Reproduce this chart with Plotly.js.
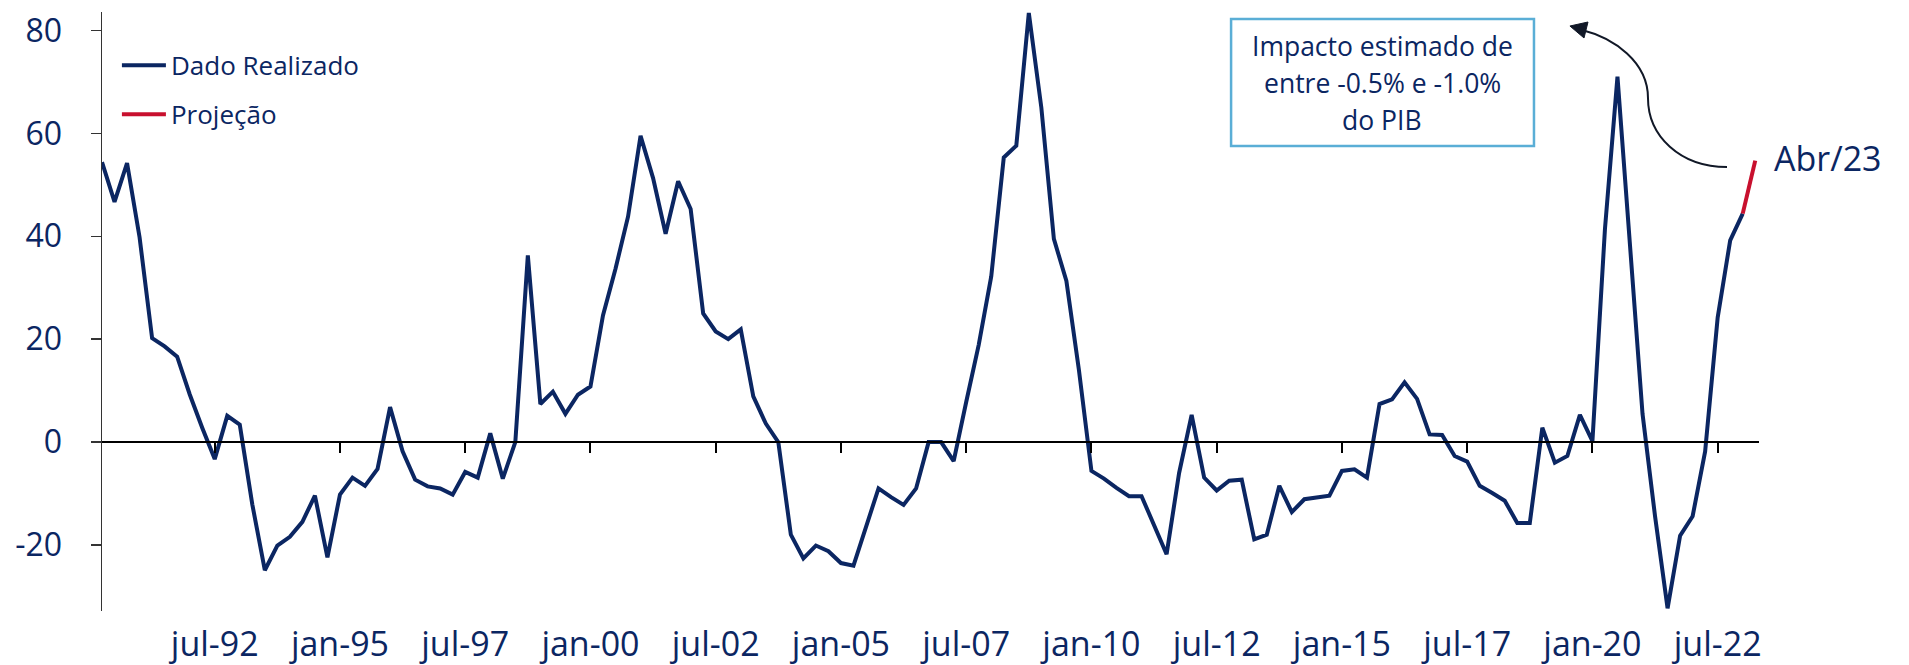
<!DOCTYPE html>
<html>
<head>
<meta charset="utf-8">
<script src="https://cdn.plot.ly/plotly-3.0.1.min.js"></script>
<style>
  html, body { margin: 0; padding: 0; background: #fff; }
  #plt1 { width: 1909px; height: 665px; }
</style>
</head>
<body>
<div id="plt1"></div>
<script>
// quarterly series, starting at abr-90
var startYear = 1990;
var startQuarter = 1; // 0 = jan, 1 = abr, 2 = jul, 3 = out
var monthNames = ['jan', 'abr', 'jul', 'out'];

var realizado = [
    54.4, 46.7, 54.2, 39.8, 20.2, 18.6, 16.6, 9.3, 2.8, -3.3,
    5.1, 3.4, -12.1, -24.9, -20.1, -18.4, -15.5, -10.4, -22.4, -10.2,
    -6.9, -8.5, -5.2, 6.8, -1.8, -7.3, -8.6, -9.0, -10.2, -5.8,
    -6.9, 1.7, -7.1, 0, 36.3, 7.4, 9.8, 5.5, 9.2, 10.8,
    24.6, 33.7, 43.8, 59.5, 51.3, 40.5, 50.7, 45.3, 25.0, 21.5,
    20.0, 21.9, 8.9, 3.6, 0, -18.0, -22.6, -20.1, -21.2, -23.5,
    -24.0, -16.5, -9.0, -10.7, -12.2, -9.0, 0, 0, -3.7, 7.8,
    18.9, 32.2, 55.3, 57.6, 83.4, 65.0, 39.5, 31.3, 14.0, -5.6,
    -7.1, -8.9, -10.5, -10.5, -16.3, -21.8, -6.0, 5.3, -6.9, -9.4,
    -7.5, -7.3, -18.9, -18.0, -8.5, -13.6, -11.1, -10.7, -10.4, -5.6,
    -5.3, -6.9, 7.4, 8.3, 11.6, 8.4, 1.5, 1.4, -2.7, -3.8,
    -8.5, -9.9, -11.4, -15.7, -15.7, 2.8, -4.0, -2.7, 5.3, 0.2,
    41.4, 71.0, 38.3, 5.5, -14.4, -32.3, -18.2, -14.4, -1.8, 24.2,
    39.2, 44.4
];
var projecao = [44.4, 54.7];

var tickLabels = ['jul-92', 'jan-95', 'jul-97', 'jan-00', 'jul-02', 'jan-05', 'jul-07',
    'jan-10', 'jul-12', 'jan-15', 'jul-17', 'jan-20', 'jul-22'];
var yTicks = [-20, 0, 20, 40, 60, 80];
var yTickText = ['-20', '0', '20', '40', '60', '80'];

var boxLines = ['Impacto estimado de', 'entre -0.5% e -1.0%', 'do PIB'];
var endLabel = 'Abr/23';

// build quarter names
var nQuarters = realizado.length + projecao.length - 1;
var quarters = [];
for (var i = 0; i < nQuarters; i++) {
    var q = startQuarter + i;
    var yr = startYear + Math.floor(q / 4);
    quarters.push(monthNames[q % 4] + '-' + String(yr).slice(2));
}
var xReal = realizado.map(function (v, i) { return i; });
var xProj = projecao.map(function (v, i) { return realizado.length - 1 + i; });
var tickPos = tickLabels.map(function (t) { return quarters.indexOf(t); });

var navy = '#0B2662';
var red = '#C8102E';
var font = 'Open Sans, Noto Sans, sans-serif';

var W = 1909, H = 665;
var M = {l: 102, r: 150, t: 12, b: 54};
var yRange = [-32.82, 83.58];
var xRange = [0, nQuarters - 1 + 0.3];
var zeroPos = (0 - yRange[0]) / (yRange[1] - yRange[0]);

// pixel -> paper helpers for decorations
var pw = W - M.l - M.r, ph = H - M.t - M.b;
function px(X) { return +((X - M.l) / pw).toFixed(4); }
function py(Y) { return +((H - M.b - Y) / ph).toFixed(4); }
function pt(X, Y) { return px(X) + ',' + py(Y); }

var curve = 'M' + pt(1727, 167) + ' C' + pt(1680, 167) + ' ' + pt(1648, 136) + ' ' + pt(1648, 98) +
    ' C' + pt(1648, 62) + ' ' + pt(1614, 38) + ' ' + pt(1582, 30);
var head = 'M' + pt(1570, 26) + ' L' + pt(1588, 22) + ' L' + pt(1584, 38) + ' Z';

var data = [
    {x: xReal, y: realizado, type: 'scatter', mode: 'lines', name: 'Dado Realizado',
        legendgroup: 'a', line: {color: navy, width: 4}},
    {x: xProj, y: projecao, type: 'scatter', mode: 'lines', name: 'Projeção',
        xaxis: 'x2', legendgroup: 'b', line: {color: red, width: 4}}
];

var boxAnn = boxLines.map(function (t, k) {
    return {xref: 'paper', yref: 'paper', x: px(1382), y: py(46 + k * 37),
        xanchor: 'center', yanchor: 'middle', text: t, showarrow: false,
        font: {family: font, size: 26.5, color: navy}};
});

var layout = {
    width: W,
    height: H,
    autosize: false,
    margin: M,
    paper_bgcolor: '#fff',
    plot_bgcolor: '#fff',
    font: {family: font, color: navy},
    showlegend: true,
    legend: {
        x: 0.009, y: 0.95, xanchor: 'left', yanchor: 'top',
        font: {family: font, size: 26, color: navy},
        bgcolor: 'rgba(0,0,0,0)',
        traceorder: 'grouped',
        tracegroupgap: 12,
        itemwidth: 44
    },
    xaxis: {
        range: xRange,
        showgrid: false,
        zeroline: false,
        showline: false,
        ticks: '',
        tickmode: 'array',
        tickvals: tickPos,
        ticktext: tickLabels,
        tickfont: {family: font, size: 34, color: navy},
        ticklabelstandoff: 10
    },
    xaxis2: {
        overlaying: 'x',
        anchor: 'free',
        position: zeroPos,
        range: xRange,
        showgrid: false,
        zeroline: false,
        showline: true,
        linecolor: '#000',
        linewidth: 2,
        ticks: 'outside',
        ticklen: 10,
        tickwidth: 2,
        tickcolor: '#000',
        tickmode: 'array',
        tickvals: tickPos,
        showticklabels: false
    },
    yaxis: {
        range: yRange,
        showgrid: false,
        zeroline: false,
        showline: true,
        linecolor: '#333',
        linewidth: 1.5,
        ticks: 'outside',
        ticklen: 10,
        tickwidth: 1.5,
        tickcolor: '#333',
        tickmode: 'array',
        tickvals: yTicks,
        ticktext: yTickText,
        tickfont: {family: font, size: 32, color: navy},
        ticklabelstandoff: 22
    },
    shapes: [
        {type: 'rect', xref: 'paper', yref: 'paper', x0: px(1231), x1: px(1534), y0: py(146), y1: py(19),
            line: {color: '#5AAED6', width: 2.5}, fillcolor: 'rgba(0,0,0,0)'},
        {type: 'path', xref: 'paper', yref: 'paper', path: curve,
            line: {color: '#111827', width: 2}},
        {type: 'path', xref: 'paper', yref: 'paper', path: head,
            fillcolor: '#111827', line: {color: '#111827', width: 1}}
    ],
    annotations: boxAnn.concat([
        {xref: 'paper', yref: 'paper', x: px(1772), y: py(158), xanchor: 'left', yanchor: 'middle',
            text: endLabel, showarrow: false,
            font: {family: font, size: 34, color: navy}}
    ])
};

Plotly.newPlot('plt1', data, layout, {displayModeBar: false, staticPlot: true});
</script>
</body>
</html>
